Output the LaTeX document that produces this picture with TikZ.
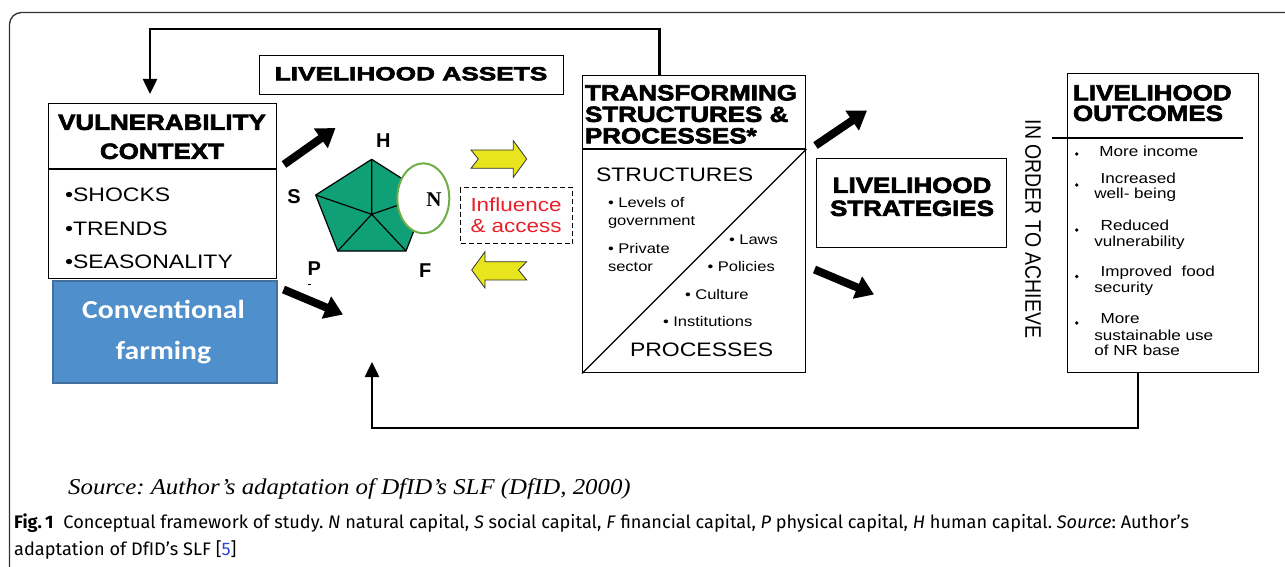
\documentclass[tikz,border=0pt]{standalone}
\usepackage{fontspec}
\usepackage{graphicx}
\usetikzlibrary{arrows.meta,shapes.geometric}
\setmainfont{Liberation Sans}
\newfontfamily\rf[FakeStretch=1.18]{Liberation Sans}
\newfontfamily\hf[FakeStretch=1.18,FakeBold=3]{Liberation Sans Bold}
\newfontfamily\cff[FakeStretch=1.14]{Carlito}
\newfontfamily\serf{Liberation Serif}
\newfontfamily\srcf[FakeStretch=1.1]{Liberation Serif}
\newfontfamily\capf{Fira Sans}
\definecolor{pgreen}{RGB}{16,160,120}
\definecolor{egreen}{RGB}{112,173,71}
\definecolor{ayellow}{RGB}{232,228,30}
\definecolor{cfill}{RGB}{79,143,203}
\definecolor{cborder}{RGB}{65,113,156}
\definecolor{ired}{RGB}{232,30,40}
\definecolor{lblue}{RGB}{40,70,220}
\frenchspacing
\begin{document}
\begin{tikzpicture}[x=1pt,y=-1pt,
  box/.style={draw=black, line width=1.4pt, anchor=north west, inner sep=0pt},
  hd/.style={font=\hf\fontsize{22}{22}\selectfont, inner sep=0pt, outer sep=0pt, text height=15.8pt, text depth=0pt},
  rg/.style={font=\rf\fontsize{19.5}{19.5}\selectfont, inner sep=0pt, outer sep=0pt, text height=14pt, text depth=0pt},
  sm/.style={font=\rf\fontsize{14}{14}\selectfont, inner sep=0pt, outer sep=0pt, text height=10pt, text depth=0pt},
  om/.style={font=\rf\fontsize{14.5}{14.5}\selectfont, inner sep=0pt, outer sep=0pt, text height=10.4pt, text depth=0pt},
  lb/.style={font=\bfseries\fontsize{20}{20}\selectfont, inner sep=0pt, outer sep=0pt, text height=14.3pt, text depth=0pt},
  fat/.style={line width=8pt, -{Triangle[length=18pt,width=23pt]}},
  fb/.style={line width=2.5pt, -{Triangle[length=15pt,width=14pt]}},
  yarrow/.style={fill=ayellow, draw=black!80, line width=0.8pt, line join=miter}
]
\useasboundingbox (0,0) rectangle (1285,567);

% outer frame
\draw[line width=1.3pt, black!80, rounded corners=12pt] (9.5,567) -- (9.5,12.5) -- (1285,12.5);

% ---- boxes ----
\node[box, minimum width=228pt, minimum height=175pt] (vc) at (48,103) {};
\draw[line width=1.4pt] (vc.west |- 0,169) -- (vc.east |- 0,169);
\node[hd] (vc1) at (162,122) {VULNERABILITY};
\node[hd] (vc2) at (162,151) {CONTEXT};
\node[rg, anchor=west] (vci1) at (65,194) {•SHOCKS};
\node[rg, anchor=west] (vci2) at (65,228) {•TRENDS};
\node[rg, anchor=west] (vci3) at (65,261) {•SEASONALITY};

\node[box, draw=cborder, fill=cfill, line width=1.6pt, minimum width=224pt, minimum height=102pt] (cf) at (52,280) {};
\node[font=\cff\bfseries\fontsize{26}{26}\selectfont, text=white, inner sep=0pt, text height=16.7pt, text depth=0pt] (cf1) at (163.5,310.5) {Conventional};
\node[font=\cff\bfseries\fontsize{26}{26}\selectfont, text=white, inner sep=0pt, text height=16.7pt, text depth=0pt] (cf2) at (163.5,351) {farming};

\node[box, minimum width=304pt, minimum height=39pt] (la) at (259,55) {};
\node[font=\hf\fontsize{19}{19}\selectfont, inner sep=0pt, text height=13.6pt, text depth=0pt] (lat) at (411,73.5) {\scalebox{1.17}[1]{LIVELIHOOD ASSETS}};

% pentagon
\coordinate (pT) at (371.7,159.3);
\coordinate (pL) at (315.7,195);
\coordinate (pBL) at (337.7,251);
\coordinate (pBR) at (406,251);
\coordinate (pR) at (427.8,195);
\coordinate (pC) at (371.7,214.3);
\filldraw[fill=pgreen, draw=black, line width=1.2pt, line join=round] (pT) -- (pR) -- (pBR) -- (pBL) -- (pL) -- cycle;
\draw[line width=1.2pt] (pC) -- (pT) (pC) -- (pR) (pC) -- (pBR) (pC) -- (pBL) (pC) -- (pL);
\node[ellipse, draw=egreen, fill=white, line width=2pt, minimum width=52pt, minimum height=70pt, inner sep=0pt] (nat) at (423.3,198.3) {};
\node[font=\serf\bfseries\fontsize{21}{21}\selectfont, inner sep=0pt, text height=14pt, text depth=0pt] (nl) at (434,199) {N};
\node[lb] (hl) at (383.3,140.5) {H};
\node[lb] (sl) at (294,196) {S};
\node[lb] (pl) at (314.3,268.3) {P};
\node[lb] (fl) at (425.3,270) {F};
\draw[line width=1pt] (308,284.5) -- (311,284.5);

% influence & access
\node[box, dashed, dash pattern=on 5pt off 3pt, line width=1.4pt, minimum width=112pt, minimum height=56pt] (inf) at (460,187) {};
\node[font=\rf\fontsize{19}{19}\selectfont, text=ired, inner sep=0pt, text height=13.6pt, text depth=0pt] (inf1) at (516,205) {Influence};
\node[font=\rf\fontsize{19}{19}\selectfont, text=ired, inner sep=0pt, text height=13.6pt, text depth=0pt] (inf2) at (516,225.5) {\& access};

% yellow arrows
\filldraw[yarrow] (471,150) -- (513.3,150) -- (513.3,140.7) -- (526.7,159) -- (513.3,177.3) -- (513.3,168.3) -- (471,168.3) -- (478.3,159) -- cycle;
\filldraw[yarrow] (526.7,261.7) -- (485,261.7) -- (485,251.7) -- (471.7,270) -- (485,288) -- (485,280) -- (526.7,280) -- (518.5,270) -- cycle;

% transforming structures
\node[box, minimum width=223pt, minimum height=297pt] (ts) at (582,75) {};
\draw[line width=1.4pt] (ts.west |- 0,149) -- (ts.east |- 0,149);
\draw[line width=1.2pt] (ts.south west) -- (ts.east |- 0,149);
\node[hd, anchor=west] (ts1) at (585,92.5) {TRANSFORMING};
\node[hd, anchor=west] (ts2) at (585,114) {STRUCTURES \&};
\node[hd, anchor=west] (ts3) at (585,135.5) {PROCESSES*};
\node[rg, anchor=west] (st) at (596,175) {STRUCTURES};
\node[sm, anchor=west] (s1) at (608,202) {• Levels of};
\node[sm, anchor=west] (s2) at (608,220) {government};
\node[sm, anchor=west] (s3) at (608,248) {• Private};
\node[sm, anchor=west] (s4) at (608,266.5) {sector};
\node[sm, anchor=west] (p1) at (729,239) {• Laws};
\node[sm, anchor=west] (p2) at (707.5,266) {• Policies};
\node[sm, anchor=west] (p3) at (685,294) {• Culture};
\node[sm, anchor=west] (p4) at (663,321.5) {• Institutions};
\node[rg, anchor=west] (pr) at (630,349) {PROCESSES};

% strategies
\node[box, minimum width=190pt, minimum height=89pt] (ls) at (816,158) {};
\node[hd] (ls1) at (912,185) {LIVELIHOOD};
\node[hd] (ls2) at (912,208) {STRATEGIES};

% in order to achieve
\node[font=\fontsize{19.5}{19.5}\selectfont, inner sep=0pt, rotate=-90] (ioa) at (1033,229) {\scalebox{1}[1.15]{IN ORDER TO ACHIEVE}};

% outcomes
\node[box, minimum width=191pt, minimum height=299pt] (lo) at (1067,73) {};
\draw[line width=1.4pt] (1052,138) -- (1243,138);
\node[hd, anchor=west] (lo1) at (1073,92.5) {LIVELIHOOD};
\node[hd, anchor=west] (lo2) at (1073,113) {OUTCOMES};
\foreach \yy in {154,185,230,276.5,323} \fill (1076.7,\yy) circle (1.8pt);
\node[om, anchor=west] (o1) at (1099.3,151.7) {More income};
\node[om, anchor=west] (o2a) at (1100.7,178.3) {Increased};
\node[om, anchor=west] (o2b) at (1094.3,193.3) {well- being};
\node[om, anchor=west] (o3a) at (1100.7,225) {Reduced};
\node[om, anchor=west] (o3b) at (1094.3,241.7) {vulnerability};
\node[om, anchor=west] (o4a) at (1100.7,271) {Improved\ \ food};
\node[om, anchor=west] (o4b) at (1094.3,287.3) {security};
\node[om, anchor=west] (o5a) at (1100.7,318.3) {More};
\node[om, anchor=west] (o5b) at (1094.3,335.3) {sustainable use};
\node[om, anchor=west] (o5c) at (1094.3,350.3) {of NR base};

% black thick arrows
\coordinate (a1s) at (284,164.5);
\coordinate (a1e) at (335.5,128);
\coordinate (a2s) at (283.5,289.5);
\coordinate (a2e) at (343,314.5);
\coordinate (a3s) at (815.5,145.5);
\coordinate (a3e) at (867,110.5);
\coordinate (a4s) at (814.5,269.5);
\coordinate (a4e) at (874,294.5);
\draw[fat] (a1s) -- (a1e);
\draw[fat] (a2s) -- (a2e);
\draw[fat] (a3s) -- (a3e);
\draw[fat] (a4s) -- (a4e);

% feedback loops
\coordinate (tsTop) at (659.5,75);
\coordinate (vcIn) at (150,94);
\draw[fb] (tsTop) -- ++(0,-46) -| (vcIn);
\coordinate (loBot) at (1138,372);
\coordinate (laIn) at (372,362);
\draw[fb] (loBot) -- ++(0,56) -| (laIn);

% captions
\node[anchor=base west, inner sep=0pt, font=\srcf\itshape\fontsize{22.6}{22.6}\selectfont] (src) at (68,494.5) {Source: Author’s adaptation of DfID’s SLF (DfID, 2000)};
\node[anchor=base west, inner sep=0pt, font=\capf\fontsize{18.15}{18.15}\selectfont] (cap1) at (14,528.5) {{\bfseries Fig.\,1}\hspace{10pt}Conceptual framework of study. \textit{N} natural capital, \textit{S} social capital, \textit{F} financial capital, \textit{P} physical capital, \textit{H} human capital. \textit{Source}: Author’s};
\node[anchor=base west, inner sep=0pt, font=\capf\fontsize{18.15}{18.15}\selectfont] (cap2) at (14,555) {adaptation of DfID’s SLF [\textcolor{lblue}{5}]};
\end{tikzpicture}
\end{document}
